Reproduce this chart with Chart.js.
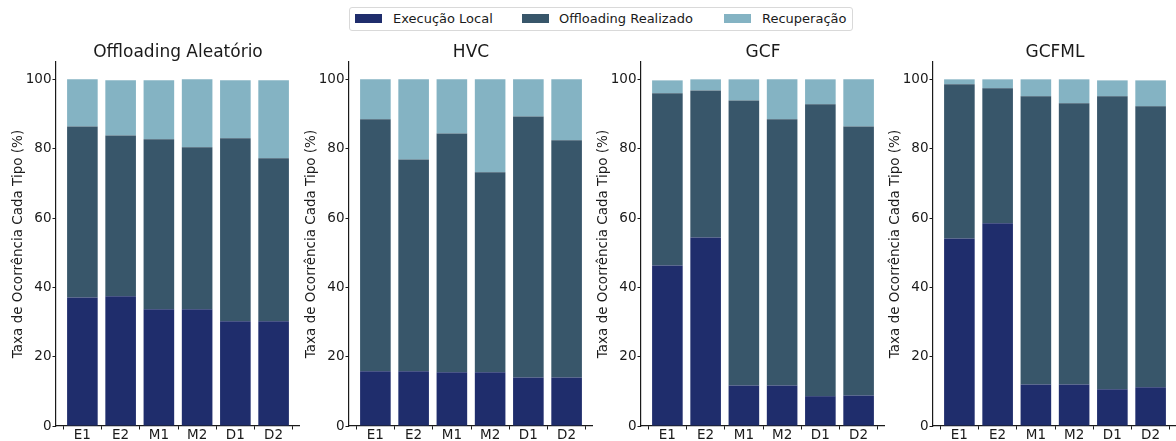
<!DOCTYPE html>
<html lang="pt">
<head>
<meta charset="utf-8">
<title>Taxa de Ocorrência por Tipo</title>
<script src="https://cdn.jsdelivr.net/npm/chart.js@4.4.1/dist/chart.umd.min.js"></script>
<style>
  html, body { margin: 0; padding: 0; background: #ffffff; }
  body { width: 1176px; height: 441px; position: relative; overflow: hidden;
         font-family: "DejaVu Sans", sans-serif; color: #1a1a1a; }
  .panel { position: absolute; top: 0; }
  #legend { position: absolute; left: 349px; top: 7px; width: 504px; height: 24px;
            border: 1px solid #d9d9d9; border-radius: 3px; box-sizing: border-box; }
  .sw { position: absolute; top: 5.5px; width: 27px; height: 9.5px; }
  .lt { position: absolute; top: 2px; font-size: 13px; line-height: 17px; white-space: nowrap; }
</style>
</head>
<body>
<div id="legend"></div>

<script>
// Scenario labels on the x axis
const categories = ['E1', 'E2', 'M1', 'M2', 'D1', 'D2'];
const yTicks = [0, 20, 40, 60, 80, 100];

// Series names and colours
const seriesNames = ['Execução Local', 'Offloading Realizado', 'Recuperação'];
const seriesColors = ['#1f2d6c', '#38566a', '#84b3c3'];

// Occurrence rate (%) of each type, per strategy
const localAleatorio   = [37.1, 37.4, 33.7, 33.7, 30.2, 30.2];
const offloadAleatorio = [49.3, 46.4, 49.0, 46.7, 52.8, 47.0];
const recupAleatorio   = [13.6, 15.9, 17.0, 19.6, 16.7, 22.5];

const localHVC   = [15.8, 15.8, 15.5, 15.5, 14.0, 14.0];
const offloadHVC = [72.7, 61.1, 68.9, 57.7, 75.3, 68.4];
const recupHVC   = [11.5, 23.1, 15.6, 26.8, 10.7, 17.6];

const localGCF   = [46.3, 54.4, 11.7, 11.7, 8.6, 8.8];
const offloadGCF = [49.7, 42.4, 82.2, 76.8, 84.2, 77.6];
const recupGCF   = [3.7, 3.2, 6.1, 11.5, 7.2, 13.6];

const localGCFML   = [54.1, 58.5, 12.0, 12.0, 10.6, 11.2];
const offloadGCFML = [44.5, 38.9, 83.1, 81.1, 84.5, 81.0];
const recupGCFML   = [1.4, 2.6, 4.9, 6.9, 4.6, 7.5];

const panelTitles = ['Offloading Aleatório', 'HVC', 'GCF', 'GCFML'];
const panelSeries = [
  [localAleatorio, offloadAleatorio, recupAleatorio],
  [localHVC, offloadHVC, recupHVC],
  [localGCF, offloadGCF, recupGCF],
  [localGCFML, offloadGCFML, recupGCFML]
];

// Layout of the four subplots (left edge of each y axis)
const axisLefts = [56, 348.5, 641, 933.3];
const yAxisBand = 56;
const panelWidth = 300;
const textColor = '#1a1a1a';
const spineColor = '#1a1a1a';

// Shared legend
const legend = document.getElementById('legend');
const swatchX = [5, 172, 374];
const labelX = [43, 209, 412];
seriesNames.forEach((name, i) => {
  const sw = document.createElement('div');
  sw.className = 'sw';
  sw.style.left = swatchX[i] + 'px';
  sw.style.background = seriesColors[i];
  legend.appendChild(sw);
  const lt = document.createElement('div');
  lt.className = 'lt';
  lt.style.left = labelX[i] + 'px';
  lt.textContent = name;
  legend.appendChild(lt);
});

Chart.defaults.font.family = '"DejaVu Sans", sans-serif';
Chart.defaults.color = textColor;

panelTitles.forEach((title, p) => {
  const holder = document.createElement('div');
  holder.className = 'panel';
  holder.style.left = (axisLefts[p] - yAxisBand) + 'px';
  const canvas = document.createElement('canvas');
  canvas.width = panelWidth;
  canvas.height = 441;
  canvas.style.width = panelWidth + 'px';
  canvas.style.height = '441px';
  holder.appendChild(canvas);
  document.body.appendChild(holder);

  const datasets = panelSeries[p].map((vals, s) => ({
    label: seriesNames[s],
    data: vals.map((v, i) => ({ x: i, y: v })),
    backgroundColor: seriesColors[s],
    borderWidth: 0,
    barPercentage: 0.8,
    categoryPercentage: 1.0
  }));

  new Chart(canvas, {
    type: 'bar',
    data: { datasets },
    options: {
      responsive: false,
      animation: false,
      devicePixelRatio: 1,
      layout: { padding: { left: 0, right: 0, top: 0, bottom: 0 } },
      plugins: {
        legend: { display: false },
        tooltip: { enabled: false },
        title: {
          display: true,
          fullSize: false,
          text: title,
          color: textColor,
          font: { size: 17, weight: 'normal', lineHeight: 1 },
          padding: { top: 44, bottom: 1 }
        }
      },
      scales: {
        x: {
          type: 'linear',
          stacked: true,
          min: -0.69,
          max: 5.69,
          offset: false,
          afterBuildTicks: (scale) => { scale.ticks = categories.map((c, i) => ({ value: i })); },
          afterFit: (scale) => { scale.height = 15; },
          ticks: {
            color: textColor,
            font: { size: 13.5 },
            padding: -2,
            maxRotation: 0,
            autoSkip: false,
            callback: (v) => categories[v]
          },
          grid: { display: true, drawOnChartArea: false, drawTicks: true, tickLength: 3.5, tickColor: spineColor, tickWidth: 1 },
          border: { display: true, color: spineColor, width: 1.2 }
        },
        y: {
          stacked: true,
          min: 0,
          max: 105,
          afterBuildTicks: (scale) => { scale.ticks = yTicks.map(v => ({ value: v })); },
          afterFit: (scale) => { scale.width = yAxisBand; },
          ticks: { color: textColor, font: { size: 13.5 }, padding: 1 },
          grid: { display: true, drawOnChartArea: false, drawTicks: true, tickLength: 3.5, tickColor: spineColor, tickWidth: 1 },
          border: { display: true, color: spineColor, width: 1.2 },
          title: {
            display: true,
            text: 'Taxa de Ocorrência Cada Tipo (%)',
            color: textColor,
            font: { size: 13.5, lineHeight: 1.2 },
            padding: { top: 10.5, bottom: 0 }
          }
        }
      }
    }
  });
});
</script>
</body>
</html>
